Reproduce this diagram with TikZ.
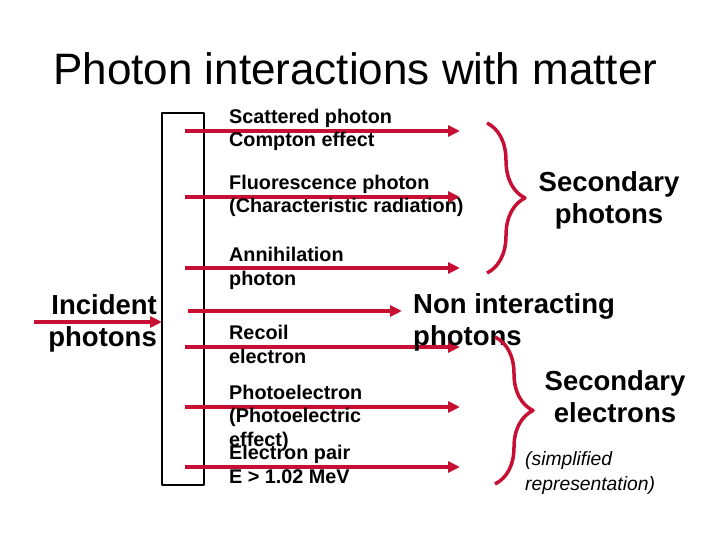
\documentclass[tikz,border=0pt]{standalone}
\usepackage{fontspec}
\setmainfont{Liberation Sans}
\usetikzlibrary{arrows.meta,decorations.pathreplacing}
\definecolor{crimson}{rgb}{0.78,0.06,0.20}

\begin{document}
\begin{tikzpicture}[x=1pt,y=-1pt,line cap=butt,line join=round,
  ray/.style={crimson,line width=3.5pt,-{Triangle[length=12pt,width=11pt]}},
  lbl/.style={anchor=base west,inner sep=0pt,align=left,font=\fontsize{19.8}{23.5}\selectfont\bfseries},
  big/.style={inner sep=0pt,align=center,font=\fontsize{27.5}{32}\selectfont\bfseries},
  bracket/.style={crimson,line width=3.5pt,decorate,decoration={brace,amplitude=38pt}}]
%\draw [color=gray!30, step=20] (0,0) grid (720,540);
\useasboundingbox (0,0) rectangle (720,540);
\node [anchor=base west,inner sep=0pt,font=\fontsize{44}{50}\selectfont] (title) at (53,85) {Photon interactions with matter};
% absorber slab
\draw [line width=2pt] (162,113) rectangle (204,485);
\coordinate (slab) at (162,322);
% incident beam (base = last line)
\node [big,anchor=base east,align=right] (incident) at (157,346) {Incident\\photons};
\coordinate (src) at (34,322);
\draw [ray] (src) -- (slab);
% outgoing rays
\coordinate (s1) at (185,131); \coordinate (e1) at (460,131);
\coordinate (s2) at (185,197); \coordinate (e2) at (460,197);
\coordinate (s3) at (185,268); \coordinate (e3) at (460,268);
\coordinate (s4) at (188,311); \coordinate (e4) at (402,311);
\coordinate (s5) at (185,347); \coordinate (e5) at (460,347);
\coordinate (s6) at (185,407); \coordinate (e6) at (460,407);
\coordinate (s7) at (185,467); \coordinate (e7) at (460,467);
\foreach \i in {1,...,7}
  \draw [ray] (s\i) -- (e\i);
% labels
\node [lbl] (compton) at (229,147) {Scattered photon\\Compton effect};
\node [lbl] (fluo) at (229,213) {Fluorescence photon\\(Characteristic radiation)};
\node [lbl] (annih) at (229,285) {Annihilation\\photon};
\node [lbl] (recoil) at (229,363) {Recoil\\electron};
\node [lbl] (photoel) at (229,446) {Photoelectron\\(Photoelectric\\effect)};
\node [lbl] (pair) at (229,483) {Electron pair\\E > 1.02 MeV};
% groups
\coordinate (b1top) at (487,123); \coordinate (b1bot) at (487,273);
\draw [bracket] (b1top) -- (b1bot);
\node [big,anchor=base] (secph) at (609,223) {Secondary\\photons};
\node [big,anchor=base west,align=left] (nonint) at (413,345) {Non interacting\\photons};
\coordinate (b2top) at (495,337); \coordinate (b2bot) at (495,484);
\draw [bracket] (b2top) -- (b2bot);
\node [big,anchor=base] (secel) at (615,422) {Secondary\\electrons};
\node [anchor=base west,inner sep=0pt,align=left,font=\fontsize{19.3}{25}\selectfont\itshape] (note) at (525,490) {(simplified\\representation)};
\end{tikzpicture}
\end{document}
